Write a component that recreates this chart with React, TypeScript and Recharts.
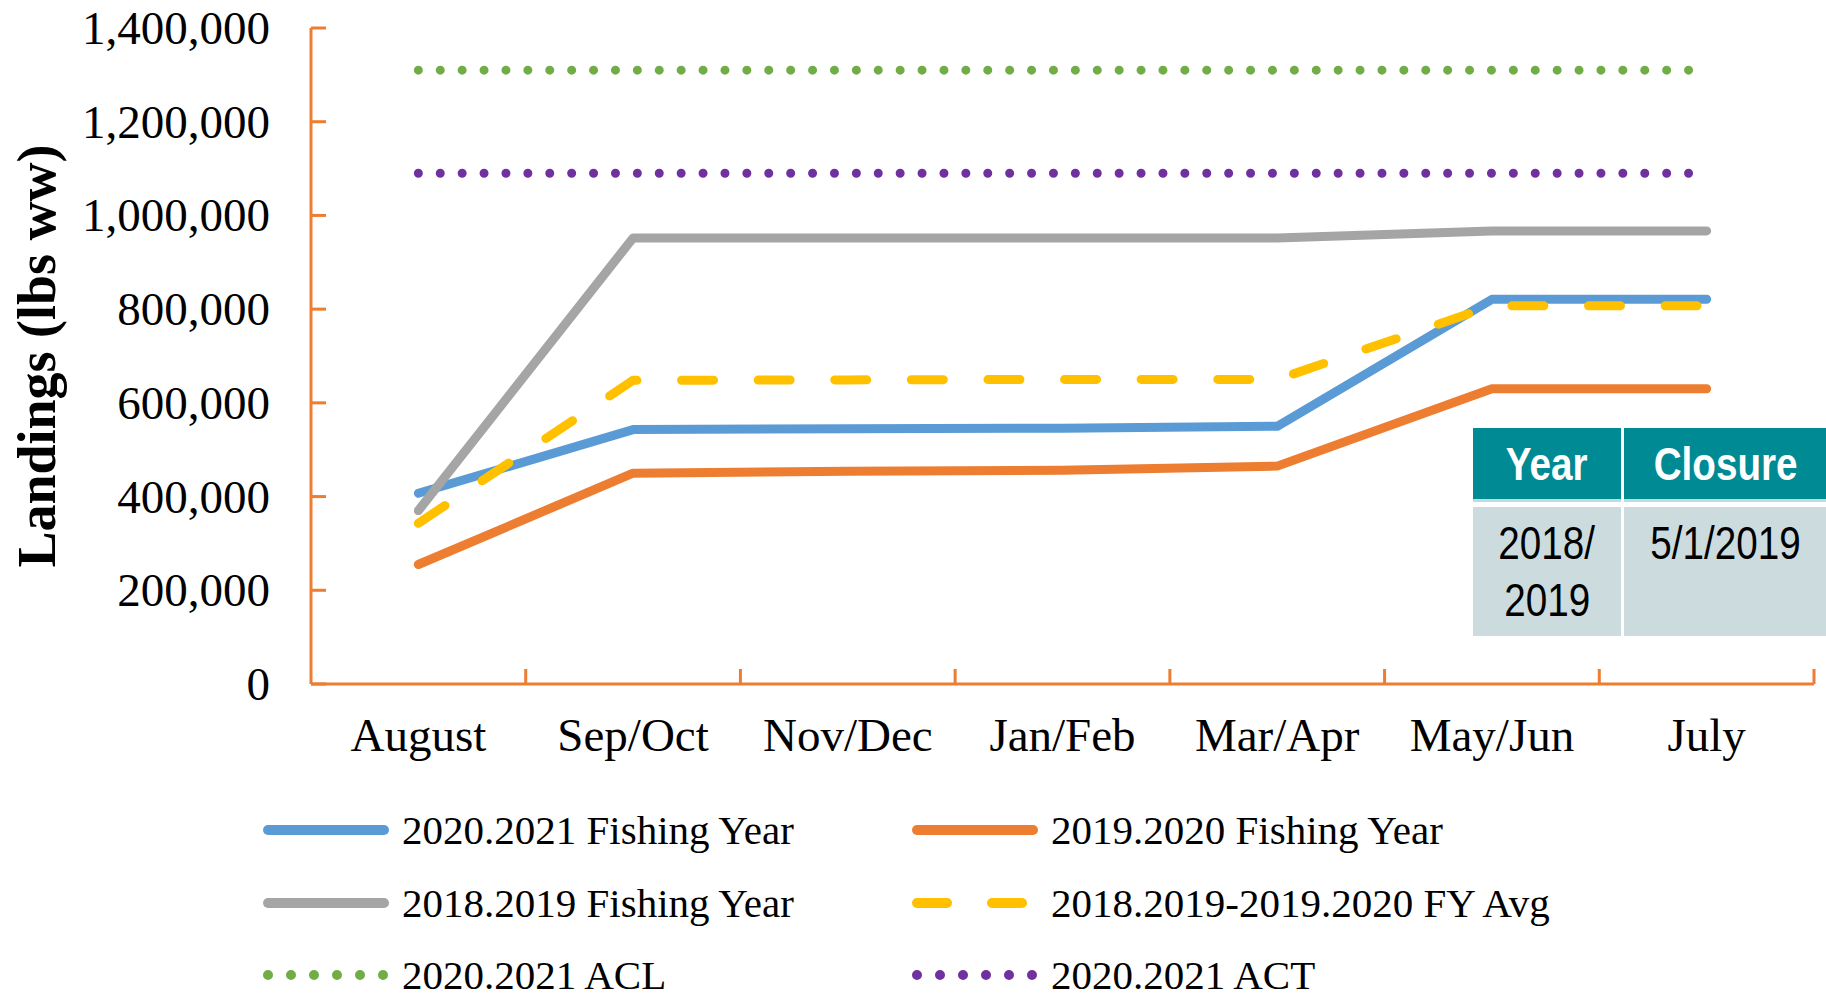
import { ComposedChart, Line, XAxis, YAxis } from "recharts";

const MONTHS = ["August", "Sep/Oct", "Nov/Dec", "Jan/Feb", "Mar/Apr", "May/Jun", "July"];

// landings, lbs ww
const FY_2020_2021 = [407000, 543000, 545000, 546000, 550000, 821000, 821000];
const FY_2019_2020 = [255000, 450000, 454000, 456000, 465000, 630000, 630000];
const FY_2018_2019 = [370000, 952000, 952000, 952000, 952000, 967000, 967000];
const FY_AVG = [343000, 648000, 649000, 650000, 650000, 807000, 807000];
const ACL_2020_2021 = [1310000, 1310000, 1310000, 1310000, 1310000, 1310000, 1310000];
const ACT_2020_2021 = [1090000, 1090000, 1090000, 1090000, 1090000, 1090000, 1090000];

const Y_TICKS = [0, 200000, 400000, 600000, 800000, 1000000, 1200000, 1400000];

const TABLE_HEADERS = ["Year", "Closure"];
const TABLE_ROW = [["2018/", "2019"], ["5/1/2019"]];

const AXIS_COLOR = "#ED7D31";
const SERIF = '"Liberation Serif", "Times New Roman", serif';
const NARROW = '"Liberation Sans Narrow", "Arial Narrow", "Liberation Sans", Arial, sans-serif';

type SeriesDef = {
  key: string;
  name: string;
  color: string;
  dash?: string;
  width: number;
};

const SERIES: SeriesDef[] = [
  { key: "fy2021", name: "2020.2021 Fishing Year", color: "#5B9BD5", width: 9 },
  { key: "fy2020", name: "2019.2020 Fishing Year", color: "#ED7D31", width: 9 },
  { key: "fy2019", name: "2018.2019 Fishing Year", color: "#A5A5A5", width: 9 },
  { key: "avg", name: "2018.2019-2019.2020 FY Avg", color: "#FFC000", width: 9, dash: "32 44.6" },
  { key: "acl", name: "2020.2021 ACL", color: "#70AD47", width: 9, dash: "0 21.9" },
  { key: "act", name: "2020.2021 ACT", color: "#7030A0", width: 9, dash: "0 21.9" },
];

const data = MONTHS.map((month, i) => ({
  month,
  fy2021: FY_2020_2021[i],
  fy2020: FY_2019_2020[i],
  fy2019: FY_2018_2019[i],
  avg: FY_AVG[i],
  acl: ACL_2020_2021[i],
  act: ACT_2020_2021[i],
}));

function MonthTick(props: any) {
  const { x, y, payload } = props;
  const half = payload?.offset ?? 0;
  return (
    <g>
      <line x1={x + half} x2={x + half} y1={y} y2={y - 15} stroke={AXIS_COLOR} strokeWidth={3} />
      <text
        x={x}
        y={y + 51}
        textAnchor="middle"
        dominantBaseline="central"
        fontFamily={SERIF}
        fontSize={47}
        fill="#000"
      >
        {payload.value}
      </text>
    </g>
  );
}

function ValueTick(props: any) {
  const { x, y, payload } = props;
  return (
    <g>
      <line x1={x} x2={x + 15} y1={y} y2={y} stroke={AXIS_COLOR} strokeWidth={3} />
      <text
        x={x - 41}
        y={y}
        textAnchor="end"
        dominantBaseline="central"
        fontFamily={SERIF}
        fontSize={47}
        fill="#000"
      >
        {Number(payload.value).toLocaleString("en-US")}
      </text>
    </g>
  );
}

function AxisTitle(props: any) {
  const vb = props.viewBox || { x: 0, y: 28, width: 311, height: 656 };
  const cx = vb.x + 37;
  const cy = vb.y + vb.height / 2;
  return (
    <text
      x={cx}
      y={cy}
      transform={`rotate(-90, ${cx}, ${cy})`}
      textAnchor="middle"
      dominantBaseline="central"
      fontFamily={SERIF}
      fontWeight="bold"
      fontSize={54}
      fill="#000"
    >
      Landings (lbs ww)
    </text>
  );
}

function Swatch({ s }: { s: SeriesDef }) {
  return (
    <svg width={130} height={20} style={{ flexShrink: 0 }}>
      <line
        x1={6}
        x2={122}
        y1={10}
        y2={10}
        stroke={s.color}
        strokeWidth={10}
        strokeLinecap="round"
        strokeDasharray={s.dash ? (s.dash.startsWith("0") ? "0 23" : "30 45") : undefined}
      />
    </svg>
  );
}

function LegendBlock() {
  return (
    <div
      style={{
        position: "absolute",
        left: 262,
        top: 794,
        display: "grid",
        gridTemplateColumns: "649px 600px",
        gridAutoRows: "72.5px",
        fontFamily: SERIF,
        fontSize: 41,
        color: "#000",
      }}
    >
      {SERIES.map((s) => (
        <div key={s.key} style={{ display: "flex", alignItems: "center", whiteSpace: "nowrap" }}>
          <Swatch s={s} />
          <span style={{ marginLeft: 10 }}>{s.name}</span>
        </div>
      ))}
    </div>
  );
}

function Narrow({ children }: { children: any }) {
  return (
    <span style={{ display: "inline-block", transform: "scaleX(0.84)", whiteSpace: "nowrap" }}>
      {children}
    </span>
  );
}

function ClosureTable() {
  return (
    <div
      style={{
        position: "absolute",
        left: 1473,
        top: 428,
        display: "grid",
        gridTemplateColumns: "148px 203px",
        gridTemplateRows: "71px 129px",
        columnGap: 3,
        rowGap: 8,
        fontFamily: NARROW,
        fontSize: 46,
      }}
    >
      {TABLE_HEADERS.map((h) => (
        <div
          key={h}
          style={{
            background: "#008A94",
            color: "#fff",
            fontWeight: "bold",
            display: "flex",
            alignItems: "center",
            justifyContent: "center",
            boxShadow: "0 3px 0 #b9dde1",
          }}
        >
          <Narrow>{h}</Narrow>
        </div>
      ))}
      {TABLE_ROW.map((lines, i) => (
        <div
          key={i}
          style={{
            background: "#CCDCDE",
            color: "#000",
            textAlign: "center",
            lineHeight: "57px",
            paddingTop: 8,
          }}
        >
          {lines.map((l) => (
            <div key={l}>
              <Narrow>{l}</Narrow>
            </div>
          ))}
        </div>
      ))}
    </div>
  );
}

export default function App() {
  return (
    <div
      style={{
        position: "absolute",
        left: 0,
        top: 0,
        width: 1826,
        height: 995,
        background: "#fff",
        overflow: "hidden",
      }}
    >
      <ComposedChart
        width={1826}
        height={995}
        data={data}
        margin={{ top: 28, right: 12, left: 0, bottom: 251 }}
      >
        <XAxis
          dataKey="month"
          type="category"
          scale="band"
          height={60}
          interval={0}
          tickSize={0}
          tickMargin={0}
          tickLine={false}
          axisLine={{ stroke: AXIS_COLOR, strokeWidth: 3 }}
          tick={<MonthTick />}
        />
        <YAxis
          type="number"
          domain={[0, 1400000]}
          ticks={Y_TICKS}
          interval={0}
          width={311}
          tickSize={0}
          tickMargin={0}
          tickLine={false}
          axisLine={{ stroke: AXIS_COLOR, strokeWidth: 3 }}
          tick={<ValueTick />}
          label={<AxisTitle />}
        />
        {SERIES.map((s) => (
          <Line
            key={s.key}
            type="linear"
            dataKey={s.key}
            name={s.name}
            stroke={s.color}
            strokeWidth={s.width}
            strokeDasharray={s.dash}
            strokeLinecap="round"
            strokeLinejoin="round"
            dot={false}
            activeDot={false}
            isAnimationActive={false}
          />
        ))}
      </ComposedChart>
      <LegendBlock />
      <ClosureTable />
    </div>
  );
}
